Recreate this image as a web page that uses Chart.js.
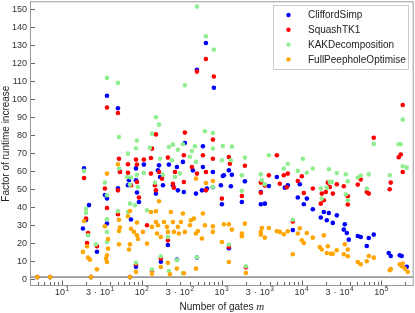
<!DOCTYPE html>
<html>
<head>
<meta charset="utf-8">
<script src="https://cdn.jsdelivr.net/npm/chart.js@4.4.1/dist/chart.umd.min.js"></script>
<style>
    html, body { margin: 0; padding: 0; background: #fff; }
    #chart { display: block; }
</style>
</head>
<body>
<canvas id="chart" width="415" height="313"></canvas>
<script>
// ============================================================
// DATA: [number of gates m, factor of runtime increase]
// ============================================================
const cliffordSimp = [
    [4.9, 1], [7.1, 1], [23.1, 1], [71, 1],
    [18.9, 61.4], [21.8, 41], [20, 32.7], [18.3, 28], [27.4, 15.1],
    [34.5, 46.6], [36.6, 44.7], [36.6, 30.8], [50.2, 50.3], [53.2, 59.6], [67, 52.1], [73.1, 33],
    [84.4, 6.7], [84.4, 61.4], [86.9, 48], [36.6, 101.8], [50.2, 94.8],
    [635, 131.1], [490, 116.2], [799, 106.2], [346, 75.5], [582, 73.7],
    [106, 63.5], [164, 63.1], [218, 63.5], [275, 62.2], [327, 65], [436, 60.3], [582, 62.2],
    [776, 59.4], [1342, 57.9], [1035, 57.2], [69, 54.8], [84.4, 54.8], [150, 47.4], [245, 52],
    [336, 48.3], [476, 47.4], [566, 49.2], [977, 52], [1006, 41.5], [1304, 51.5], [653, 50.2],
    [1231, 60.3], [1066, 57.6], [92, 42.7], [159, 60.3], [169, 56.6], [283, 49.2], [184, 52],
    [776, 50.9], [212, 18.8], [173, 9.5], [275, 10.8], [490, 11.9],
    [1952, 54.2], [1790, 42.7], [4909, 56.6], [3898, 51.6], [3095, 48.3], [3095, 41.5], [3474, 41.8],
    [6180, 50.7], [6735, 52], [9522, 52.6], [8989, 45.2], [11650, 44.6], [10690, 41.5], [13850, 38.7],
    [7783, 27.1], [1231, 17],
    [19020, 37.2], [21970, 36.6], [17440, 34.1], [20740, 32.6], [24660, 31.1], [27670, 35.3],
    [34840, 30.3], [33840, 27.4], [36900, 25.5], [39090, 21.8], [50660, 23.8], [55230, 23.3],
    [65650, 18.3], [69550, 22.7], [80330, 24.6], [123800, 14.4], [131100, 12.7], [169900, 13.1],
    [180000, 12.7], [208000, 6.7]
];

const squashTK1 = [
    [4.9, 1], [7.1, 1], [23.1, 1], [71, 1],
    [18.9, 56.1], [20, 33.5], [21.2, 25.5], [20.6, 19.9], [27.4, 18.1],
    [34.5, 50.2], [36.6, 39.4], [51.7, 66.8], [53.2, 59.4], [67, 59], [67, 63.7], [73.1, 52],
    [50.2, 49.2], [50.2, 35.9], [84.4, 8.1], [92, 45.2], [36.6, 95.2], [50.2, 92.2],
    [635, 122.2], [490, 115.2], [799, 112.5], [346, 81.3], [776, 77.4], [150, 80.3], [134, 72.4],
    [582, 68.7], [84.4, 66.3], [86.9, 63.5], [106, 66.3], [130, 67.2], [164, 59.4], [212, 67.4],
    [260, 59.4], [336, 68.7], [424, 62.2], [490, 58.5], [635, 59.4], [776, 66.8], [1231, 67.7],
    [1267, 64], [86.9, 53.8], [130, 58.5], [146, 52], [150, 49.2], [179, 55.7], [245, 52.9],
    [336, 53.8], [635, 49.2], [1006, 44.6], [252, 50.7], [116, 29.8], [212, 21.4], [173, 11.4],
    [134, 4.4], [1231, 17.8],
    [1952, 62.9], [1790, 46.1], [4909, 68.7], [6735, 58.5], [6003, 57.6], [3898, 57.6], [3095, 53.5],
    [3474, 51.9], [3095, 47.9], [5350, 52.9], [6544, 50.9], [10090, 57], [8989, 54.4], [10690, 47.7],
    [13850, 50.2], [7783, 31.9], [2009, 6.4],
    [185300, 96.6], [80330, 78.4], [174900, 69.1], [165100, 67.6], [185300, 59.4], [131100, 53.5],
    [127400, 49.8], [21350, 53.5], [27670, 52.6], [22610, 51.1], [33840, 51.5], [55230, 55.2],
    [50660, 52.4], [65650, 48.3], [69550, 47.4], [17950, 47.4], [20150, 48.3], [24660, 47.4],
    [17440, 41.8], [19020, 43.7], [37990, 45.9], [37990, 41.3]
];

const kakDecomposition = [
    [4.9, 1], [7.1, 1], [23.1, 1], [71, 1],
    [18.9, 60], [20, 39], [20, 36.7], [21.2, 24.2], [26.6, 19.2],
    [34.5, 53.5], [36.6, 46.5], [36.6, 33.1], [36.6, 26.1], [36.6, 20.5],
    [51.7, 61.3], [67, 69.6], [73.1, 56.3], [50.2, 37.6], [67, 37.2], [71, 41.8], [84.4, 8.9],
    [86.9, 76.9], [89.4, 51.1], [36.6, 111.7], [50.2, 108.9], [51.7, 78.8],
    [490, 151.3], [635, 134.8], [799, 127.4], [346, 107.6], [150, 89.8], [164, 85.7], [617, 82],
    [776, 81.1], [134, 80.7], [84.4, 72.6], [1035, 73.8], [1342, 73.5], [218, 73.3], [245, 74.6],
    [327, 74.8], [462, 73.7], [126, 72.9], [283, 71.8], [424, 71.1], [776, 72.4],
    [106, 58.8], [86.9, 57.9], [65.1, 56.6], [169, 66.8], [238, 65.9], [300, 58.5], [476, 65],
    [1304, 65.9], [1006, 65.9], [71, 52.4], [146, 53.5], [260, 56.6], [776, 51.1], [82, 40.9],
    [184, 57.9], [400, 67.9], [116, 38.1], [212, 23.3], [173, 12.6], [134, 5.2], [218, 4.4],
    [275, 10.4], [327, 3.3], [490, 12], [1231, 19.1], [2009, 7],
    [1790, 57.6], [1952, 67.4], [1790, 48.9], [3898, 68.7], [6735, 64], [6003, 61.3], [3095, 58.1],
    [3186, 54.8], [3474, 52.6], [8989, 60], [10380, 66.8], [13850, 61.3], [11650, 59], [7783, 32.9],
    [185300, 88.5], [80330, 75], [165100, 74.8], [174900, 74.8], [185300, 62.6], [208000, 61.8],
    [127400, 57.6], [21970, 60.9], [27670, 58.8], [35850, 58.1], [50660, 56.3], [55230, 57.4],
    [69550, 58.1], [17440, 50.2], [20740, 50.7], [22610, 53.8], [23960, 53.9], [37990, 54.2],
    [65650, 50.2], [17950, 44.6], [35850, 47], [37990, 43.7]
];

const fullPeepholeOptimise = [
    [4.9, 1], [7.1, 1], [23.1, 1], [71, 1],
    [18.9, 32.2], [18.3, 15], [20.6, 18.1], [21.2, 11.8], [22.4, 10.7], [27.4, 5.3],
    [36.6, 58.5], [34.5, 29.2], [37.7, 22.2], [37.7, 16.8], [36.6, 13.1], [35.5, 11.3], [36.6, 9.4],
    [50.2, 63.7], [51.7, 32.9], [53.2, 28.5], [51.7, 26.6], [51.7, 19.2], [71, 37.7], [67, 34.8],
    [73.1, 27.9], [71, 19.2], [69, 16.3], [84.4, 3.9], [79.7, 26.1], [86.9, 24.2], [89.4, 22.2],
    [86.9, 31.3], [103, 26.1], [116, 19.6], [130, 37.2], [150, 37.6], [134, 28.9], [150, 31.6],
    [155, 25.2], [159, 29.8], [173, 23.3], [189, 31.6], [206, 28.9], [212, 26.1], [231, 37.2],
    [245, 31.6], [252, 26.1], [283, 28.9], [291, 25.2], [309, 31.6], [327, 36.3], [346, 26.1],
    [400, 29.8], [412, 32.6], [449, 33.5], [476, 25.2], [504, 26.6], [566, 22.4], [582, 36.3],
    [617, 29.8], [776, 29.2], [776, 26.1], [1006, 20.5], [1066, 30.3], [1231, 30.3], [1342, 27.4],
    [1231, 9.4], [476, 5.7], [212, 8.9], [173, 6.6], [134, 2.9], [225, 2.6], [275, 5.7], [336, 3.1],
    [164, 43.1], [476, 55.7], [635, 53.3], [776, 54.4],
    [1790, 25.2], [1790, 23.7], [1952, 30.7], [3095, 26.1], [3186, 28.3], [3095, 24.6], [3474, 22.9],
    [3898, 28.3], [4909, 26.5], [5350, 26.1], [6003, 24.8], [6735, 26.5], [8989, 25.2], [9522, 28.1],
    [11650, 25.5], [10090, 21.5], [10690, 19.9], [13850, 22.9], [16940, 17.7], [7783, 13.7], [2009, 3.3],
    [19020, 24.2], [17950, 16.3], [20740, 14.4], [21350, 18.1], [23280, 14], [24660, 14], [27670, 15.9],
    [34840, 19.2], [33840, 13.7], [37990, 12.6], [37990, 16.3], [50660, 9.4], [55230, 8.1], [65650, 9.8],
    [69550, 12.7], [80330, 11.8], [127400, 4.8], [131100, 5.4], [169900, 8.1], [180000, 7],
    [185300, 8.5], [196300, 5.7], [214000, 3.9]
];

const seriesNames = ["CliffordSimp", "SquashTK1", "KAKDecomposition", "FullPeepholeOptimise"];
const seriesColors = ["#0000ff", "#ff0000", "#90ee90", "#ffa500"];
const seriesData = [cliffordSimp, squashTK1, kakDecomposition, fullPeepholeOptimise];

const yTickValues = [0, 10, 20, 30, 40, 50, 60, 70, 80, 90, 100, 110, 120, 130, 140, 150];
const xTickValues = [10, 30, 100, 300, 1000, 3000, 10000, 30000, 100000];

// ============================================================
// AXES DRAWN BY HAND (pgfplots look: frame, inward ticks)
// ============================================================
const FONT = "'Liberation Sans', Arial, sans-serif";

// "10^e" or "3 · 10^e" with a raised exponent
function drawPowerLabel(ctx, cx, cy, value) {
    const exp = Math.floor(Math.log10(value) + 1e-9);
    const mant = Math.round(value / Math.pow(10, exp));
    const base = "9px " + FONT;
    const sup = "6.5px " + FONT;
    const gap = 3;

    ctx.font = base;
    const wMant = mant === 1 ? 0 : ctx.measureText(String(mant)).width;
    const wDot = mant === 1 ? 0 : ctx.measureText("·").width;
    const wTen = ctx.measureText("10").width;
    ctx.font = sup;
    const wExp = ctx.measureText(String(exp)).width;

    const total = (mant === 1 ? 0 : wMant + gap + wDot + gap) + wTen + 0.5 + wExp;
    let x = cx - total / 2;

    ctx.textAlign = "left";
    ctx.textBaseline = "middle";
    ctx.font = base;
    if (mant !== 1) {
        ctx.fillText(String(mant), x, cy);
        x += wMant + gap;
        ctx.fillText("·", x, cy);
        x += wDot + gap;
    }
    ctx.fillText("10", x, cy);
    x += wTen + 0.5;
    ctx.font = sup;
    ctx.fillText(String(exp), x, cy - 3.5);
}

const pgfAxes = {
    id: "pgfAxes",
    beforeDatasetsDraw(chart) {
        const { ctx, chartArea: a, scales } = chart;
        // reference line at factor 1
        const y1 = scales.y.getPixelForValue(1);
        ctx.save();
        ctx.strokeStyle = "#999999";
        ctx.lineWidth = 1.8;
        ctx.beginPath();
        ctx.moveTo(a.left, y1);
        ctx.lineTo(a.right, y1);
        ctx.stroke();
        ctx.restore();
    },
    afterDraw(chart) {
        const { ctx, chartArea: a, scales: { x, y } } = chart;
        ctx.save();

        // frame
        ctx.strokeStyle = "#999999";
        ctx.lineWidth = 1;
        ctx.strokeRect(a.left - 0.5, a.top - 0.5, a.right - a.left + 1, a.bottom - a.top + 1);

        // y ticks + labels
        ctx.strokeStyle = "#666666";
        ctx.fillStyle = "#333333";
        ctx.font = "9px " + FONT;
        ctx.textAlign = "right";
        ctx.textBaseline = "middle";
        yTickValues.forEach(v => {
            const py = Math.round(y.getPixelForValue(v)) + 0.5;
            ctx.beginPath();
            ctx.moveTo(a.left, py);
            ctx.lineTo(a.left + 4, py);
            ctx.stroke();
            ctx.fillText(String(v), a.left - 4, py + 0.5);
        });

        // x minor ticks (2..9 in each decade) and major ticks
        const lo = x.min, hi = x.max;
        for (let d = 0; d <= 5; d++) {
            for (let k = 1; k <= 9; k++) {
                const v = k * Math.pow(10, d);
                if (v < lo || v > hi) continue;
                const px = Math.round(x.getPixelForValue(v)) + 0.5;
                const len = k === 1 ? 4.5 : 3;
                ctx.beginPath();
                ctx.moveTo(px, a.bottom);
                ctx.lineTo(px, a.bottom - len);
                ctx.stroke();
            }
        }

        // x labels
        xTickValues.forEach(v => {
            drawPowerLabel(ctx, x.getPixelForValue(v), 292.5, v);
        });

        // axis titles
        ctx.fillStyle = "#222222";
        ctx.font = "10px " + FONT;
        const t1 = "Number of gates ";
        const w1 = ctx.measureText(t1).width;
        ctx.font = "italic 11px 'Liberation Serif', serif";
        const w2 = ctx.measureText("m").width;
        const cx = (a.left + a.right) / 2;
        const tx = cx - (w1 + w2) / 2;
        ctx.textAlign = "left";
        ctx.textBaseline = "alphabetic";
        ctx.font = "10px " + FONT;
        ctx.fillText(t1, tx, 309.5);
        ctx.font = "italic 11px 'Liberation Serif', serif";
        ctx.fillText("m", tx + w1, 309.5);

        ctx.save();
        ctx.translate(6, (a.top + a.bottom) / 2);
        ctx.rotate(-Math.PI / 2);
        ctx.font = "10px " + FONT;
        ctx.textAlign = "center";
        ctx.textBaseline = "middle";
        ctx.fillText("Factor of runtime increase", 0, 0);
        ctx.restore();

        // legend
        ctx.fillStyle = "#ffffff";
        ctx.fillRect(273.5, 5.5, 135, 64);
        ctx.strokeStyle = "#cccccc";
        ctx.strokeRect(273.5, 5.5, 135, 64);
        ctx.font = "10px " + FONT;
        ctx.textAlign = "left";
        ctx.textBaseline = "middle";
        seriesNames.forEach((name, i) => {
            const ry = 15 + i * 14.8;
            ctx.fillStyle = seriesColors[i];
            ctx.beginPath();
            ctx.arc(288.5, ry, 2.2, 0, Math.PI * 2);
            ctx.fill();
            ctx.fillStyle = "#222222";
            ctx.fillText(name, 308, ry + 0.5);
        });

        ctx.restore();
    }
};

// ============================================================
// CHART
// ============================================================
new Chart(document.getElementById("chart"), {
    type: "scatter",
    data: {
        datasets: seriesData.map((pts, i) => ({
            label: seriesNames[i],
            data: pts.map(p => ({ x: p[0], y: p[1] })),
            backgroundColor: seriesColors[i],
            borderWidth: 0,
            pointRadius: 2.3,
            pointHoverRadius: 2.3,
            order: seriesData.length - 1 - i   // last series drawn on top
        }))
    },
    options: {
        responsive: false,
        animation: false,
        devicePixelRatio: 1,
        events: [],
        layout: { padding: { left: 31, top: 1, right: 2, bottom: 28 } },
        scales: {
            x: { type: "logarithmic", min: 4.09, max: 247000, display: false },
            y: { type: "linear", min: -3.4, max: 153.7, display: false }
        },
        plugins: {
            legend: { display: false },
            tooltip: { enabled: false }
        }
    },
    plugins: [pgfAxes]
});
</script>
</body>
</html>
